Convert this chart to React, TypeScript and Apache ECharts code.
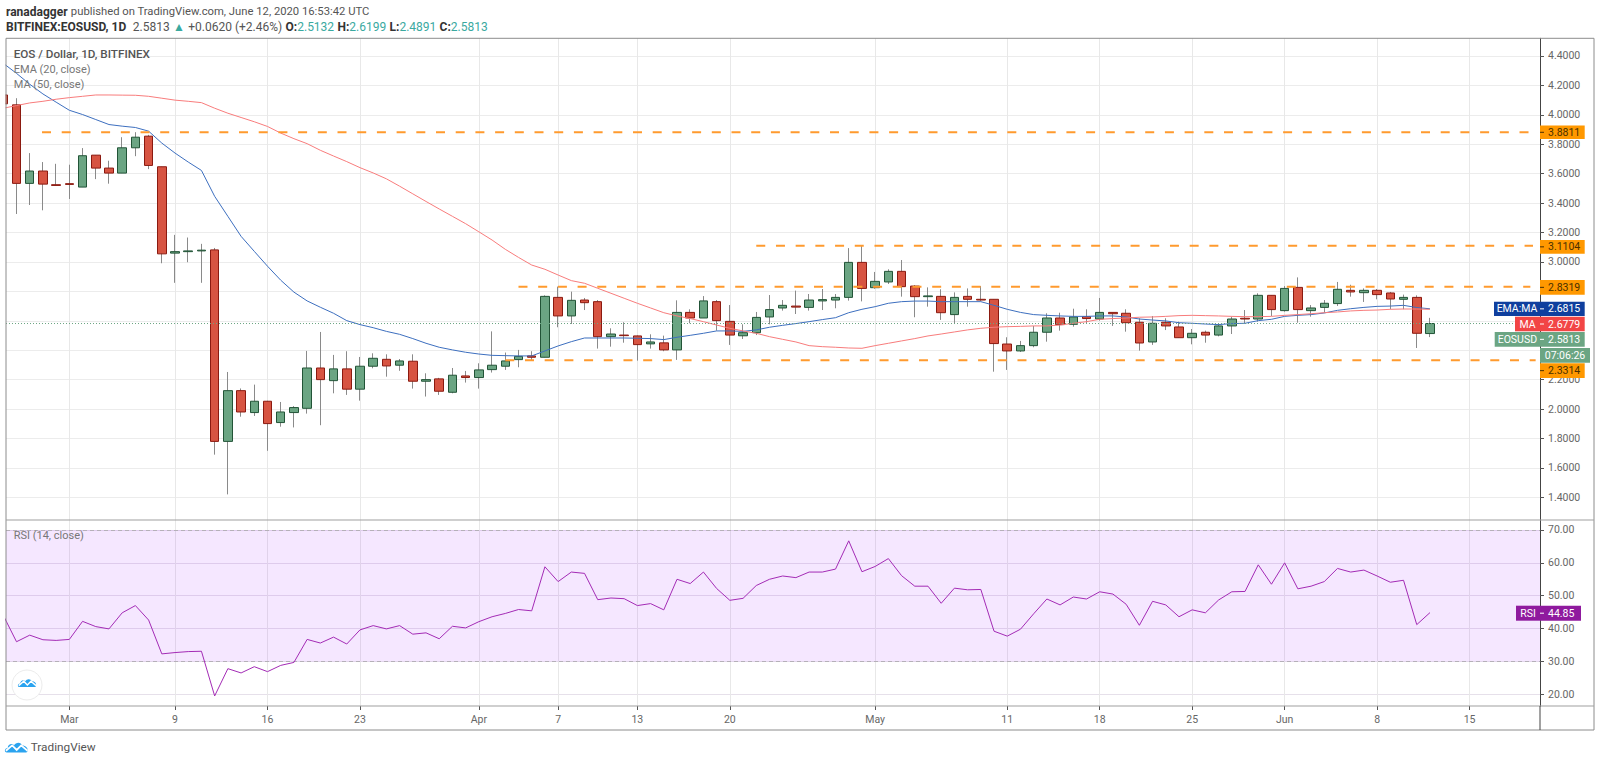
import { useEffect, useRef } from 'react';
import * as echarts from 'echarts';

// day 0 is Feb 25 2020, one entry per calendar day up to Jun 12
const opens = [
  4.135, 4.068, 3.534, 3.618, 3.525,
  3.532, 3.509, 3.726, 3.638, 3.604, 3.776, 3.855, 3.647, 3.06, 3.07, 3.075, 3.082, 1.78, 2.125, 1.976, 2.053, 1.908, 1.976, 2.005, 2.279, 2.193, 2.273, 2.135, 2.291, 2.338, 2.298, 2.325, 2.189, 2.205, 2.114, 2.225,
  2.214, 2.268, 2.291, 2.336, 2.361, 2.352, 2.759, 2.633, 2.741, 2.73, 2.492, 2.503, 2.497, 2.443, 2.45, 2.402, 2.657, 2.619, 2.73, 2.596, 2.498, 2.519, 2.626, 2.687, 2.7, 2.691, 2.735, 2.741, 2.759, 2.997,
  2.825, 2.864, 2.936, 2.836, 2.764, 2.766, 2.642, 2.766, 2.746, 2.746, 2.442, 2.395, 2.431, 2.522, 2.619, 2.576, 2.628, 2.612, 2.657, 2.651, 2.59, 2.456, 2.59, 2.558, 2.485, 2.522, 2.503, 2.565, 2.617, 2.612, 2.773,
  2.669, 2.827, 2.669, 2.691, 2.717, 2.807, 2.791, 2.807, 2.789, 2.746, 2.759, 2.5132,
];
const closes = [
  4.075, 3.534, 3.618, 3.529, 3.52,
  3.527, 3.722, 3.638, 3.604, 3.776, 3.848, 3.656, 3.055, 3.07, 3.075, 3.08, 1.78, 2.125, 1.98, 2.053, 1.901, 1.98, 2.01, 2.279, 2.2, 2.273, 2.135, 2.291, 2.345, 2.293, 2.327, 2.189, 2.2, 2.121, 2.23, 2.214,
  2.266, 2.298, 2.327, 2.358, 2.352, 2.766, 2.633, 2.739, 2.723, 2.492, 2.51, 2.499, 2.438, 2.456, 2.402, 2.657, 2.619, 2.735, 2.601, 2.503, 2.519, 2.623, 2.676, 2.705, 2.693, 2.741, 2.744, 2.759, 2.997, 2.82,
  2.868, 2.936, 2.832, 2.764, 2.769, 2.655, 2.759, 2.746, 2.741, 2.445, 2.395, 2.431, 2.522, 2.619, 2.574, 2.626, 2.615, 2.657, 2.648, 2.587, 2.449, 2.583, 2.565, 2.485, 2.515, 2.503, 2.565, 2.612, 2.612, 2.773, 2.676,
  2.82, 2.676, 2.687, 2.719, 2.814, 2.796, 2.807, 2.778, 2.748, 2.759, 2.515, 2.5813,
];
const lows = [
  4.05, 3.326, 3.387, 3.351, 3.518,
  3.428, 3.509, 3.563, 3.532, 3.604, 3.719, 3.631, 2.991, 2.858, 2.998, 2.858, 1.69, 1.42, 1.948, 1.953, 1.716, 1.88, 1.875, 1.969, 1.89, 2.107, 2.096, 2.057, 2.277, 2.22, 2.26, 2.139, 2.085, 2.096, 2.107, 2.18,
  2.139, 2.248, 2.266, 2.284, 2.329, 2.352, 2.556, 2.578, 2.673, 2.411, 2.424, 2.451, 2.329, 2.411, 2.393, 2.334, 2.583, 2.619, 2.533, 2.436, 2.476, 2.503, 2.576, 2.669, 2.646, 2.669, 2.673, 2.685, 2.737, 2.732,
  2.818, 2.85, 2.764, 2.624, 2.696, 2.606, 2.578, 2.696, 2.735, 2.254, 2.266, 2.388, 2.42, 2.458, 2.533, 2.56, 2.583, 2.601, 2.565, 2.526, 2.397, 2.436, 2.537, 2.485, 2.44, 2.451, 2.494, 2.51, 2.583, 2.594, 2.632,
  2.662, 2.587, 2.628, 2.655, 2.701, 2.764, 2.728, 2.746, 2.678, 2.678, 2.415, 2.4891,
];
const highs = [
  4.15, 4.113, 3.74, 3.679, 3.667,
  3.661, 3.774, 3.726, 3.688, 3.848, 3.882, 3.864, 3.647, 3.184, 3.166, 3.123, 3.095, 2.252, 2.14, 2.166, 2.056, 2.048, 2.02, 2.395, 2.524, 2.368, 2.393, 2.354, 2.379, 2.372, 2.34, 2.372, 2.243, 2.212, 2.279, 2.259,
  2.311, 2.528, 2.384, 2.402, 2.393, 2.773, 2.832, 2.798, 2.755, 2.741, 2.549, 2.59, 2.5, 2.508, 2.499, 2.739, 2.678, 2.768, 2.741, 2.707, 2.576, 2.66, 2.775, 2.741, 2.805, 2.782, 2.816, 2.782, 3.094, 3.112,
  2.932, 2.95, 3.013, 2.843, 2.827, 2.814, 2.793, 2.82, 2.836, 2.746, 2.488, 2.463, 2.565, 2.651, 2.655, 2.682, 2.678, 2.755, 2.657, 2.678, 2.617, 2.632, 2.617, 2.594, 2.544, 2.533, 2.578, 2.628, 2.673, 2.787, 2.773,
  2.836, 2.895, 2.707, 2.741, 2.864, 2.845, 2.82, 2.816, 2.796, 2.778, 2.773, 2.6199,
];
const ema20 = [
  4.35, 4.282, 4.208, 4.142, 4.086,
  4.031, 4.002, 3.968, 3.934, 3.923, 3.914, 3.889, 3.808, 3.74, 3.679, 3.622, 3.446, 3.31, 3.174, 3.072, 2.971, 2.876, 2.795, 2.735, 2.692, 2.651, 2.601, 2.574, 2.553, 2.528, 2.508, 2.479, 2.447, 2.42, 2.402, 2.386,
  2.374, 2.365, 2.363, 2.361, 2.361, 2.395, 2.429, 2.458, 2.483, 2.483, 2.483, 2.483, 2.481, 2.479, 2.472, 2.488, 2.501, 2.515, 2.531, 2.531, 2.528, 2.538, 2.556, 2.569, 2.581, 2.594, 2.608, 2.621, 2.655, 2.678,
  2.696, 2.719, 2.73, 2.734, 2.734, 2.73, 2.73, 2.73, 2.73, 2.705, 2.678, 2.657, 2.642, 2.637, 2.633, 2.63, 2.63, 2.633, 2.633, 2.626, 2.612, 2.605, 2.599, 2.587, 2.583, 2.578, 2.574, 2.581, 2.583, 2.601, 2.61,
  2.63, 2.637, 2.642, 2.653, 2.671, 2.682, 2.691, 2.698, 2.7, 2.705, 2.69, 2.6815,
];
const ma50 = [
  4.045, 4.063, 4.081, 4.092, 4.106,
  4.117, 4.126, 4.135, 4.135, 4.134, 4.133, 4.126, 4.113, 4.1, 4.092, 4.083, 4.045, 4.011, 3.982, 3.953, 3.921, 3.876, 3.838, 3.804, 3.759, 3.72, 3.682, 3.641, 3.605, 3.565, 3.515, 3.463, 3.411, 3.36, 3.31, 3.26,
  3.205, 3.149, 3.086, 3.031, 2.979, 2.95, 2.911, 2.873, 2.855, 2.821, 2.787, 2.753, 2.719, 2.687, 2.655, 2.633, 2.615, 2.594, 2.571, 2.549, 2.531, 2.515, 2.492, 2.474, 2.456, 2.431, 2.424, 2.42, 2.415, 2.413,
  2.431, 2.447, 2.463, 2.479, 2.497, 2.51, 2.524, 2.538, 2.549, 2.556, 2.56, 2.562, 2.565, 2.565, 2.571, 2.583, 2.594, 2.61, 2.615, 2.619, 2.624, 2.626, 2.63, 2.635, 2.637, 2.635, 2.633, 2.63, 2.628, 2.628, 2.63,
  2.637, 2.642, 2.648, 2.655, 2.66, 2.667, 2.671, 2.673, 2.678, 2.68, 2.68, 2.6779,
];
const rsi14 = [
  44, 36, 38, 36.6, 36.4,
  36.7, 42.2, 40.6, 39.9, 44.8, 47, 42.6, 32.3, 32.7, 33, 33.1, 19.5, 27.8, 26.5, 28.4, 26.9, 28.8, 29.7, 36.7, 35.6, 37.4, 35.3, 39.6, 40.9, 39.9, 40.9, 38.3, 38.7, 36.9, 40.7, 40.2,
  42.1, 43.6, 44.6, 45.8, 45.4, 58.8, 54.3, 57.2, 56.8, 48.8, 49.3, 49.1, 47, 47.6, 45.7, 55, 53.7, 57.2, 52.2, 48.6, 49.2, 53.1, 55, 56, 55.5, 57.2, 57.2, 58.1, 66.7, 57.3,
  58.9, 61.3, 56.1, 52.9, 52.9, 47.7, 52.3, 51.8, 51.9, 39.2, 37.7, 39.8, 44.5, 49, 47.2, 49.6, 49, 51.2, 50.5, 47.4, 41, 48.3, 47.2, 43.6, 45.7, 44.8, 48.7, 51.2, 51.3, 59.4, 53.5,
  60, 52.1, 52.9, 54.3, 58.3, 57.2, 57.8, 56, 54.1, 54.7, 41.2, 44.85,
];

const tickDays = [5, 13, 20, 27, 36, 42, 48, 55, 66, 76, 83, 90, 97, 104, 111];
const tickNames = ['Mar', '9', '16', '23', 'Apr', '7', '13', '20', 'May', '11', '18', '25', 'Jun', '8', '15'];
const priceTicks = [1.4, 1.6, 1.8, 2, 2.2, 2.4, 2.6, 2.8, 3, 3.2, 3.4, 3.6, 3.8, 4, 4.2, 4.4];
// 2.4, 2.6 and 2.8 sit behind the flags on the axis
const priceLabels = [1.4, 1.6, 1.8, 2, 2.2, 3, 3.2, 3.4, 3.6, 3.8, 4, 4.2, 4.4];
const rsiTicks = [20, 30, 40, 50, 60, 70];

const levels = [3.8811, 3.1104, 2.8319, 2.3314];
const levelStarts = [2.93, 57, 39, 38];
const levelEnds = [115.8, 115.8, 115.6, 116];
const lastPrice = 2.5813;

const FONT = 'Roboto, sans-serif';
const XMIN = 0.204;
const XMAX = 116.33;
const AXIS_SIZE = 10.5;

echarts.graphic.registerShape(
  'tvCloud',
  echarts.graphic.extendPath(
    'M2 14 C-1 14 -1 9 3 9 C3 5 8 3 10 6 C12 2 18 2 19 6 C23 6 26 9 25 12 C25 13 24 14 23 14 Z',
    {},
  ),
);

const text = (x: number, y: number, t: string, fill: string, size = 11, weight = 'normal') => ({
  type: 'text',
  z: 100,
  x,
  y,
  style: { text: t, fill, font: `${weight} ${size}px ${FONT}`, textVerticalAlign: 'middle' },
});

const rect = (x: number, y: number, w: number, h: number, fill: string) => ({
  type: 'rect',
  z: 100,
  shape: { x, y, width: w, height: h },
  style: { fill },
});

const line = (x1: number, y1: number, x2: number, y2: number, stroke: string, lineWidth = 1) => ({
  type: 'line',
  z: 101,
  shape: { x1, y1, x2, y2 },
  style: { stroke, lineWidth },
});

// price flag on the axis, with the name box to its left when there is one
const flag = (y0: number, y1: number, fill: string, color: string, value: string, name?: string, nameX?: number, w = 44.7) => {
  const out: any[] = [rect(1540, y0, w, y1 - y0, fill), line(1540, (y0 + y1) / 2, 1544, (y0 + y1) / 2, color)];
  out.push({
    type: 'text',
    z: 102,
    x: 1548,
    y: (y0 + y1) / 2,
    style: { text: value, fill: color, font: `${AXIS_SIZE}px ${FONT}`, textVerticalAlign: 'middle' },
  });
  if (name && nameX !== undefined) {
    out.push(rect(nameX, y0, 1540 - nameX, y1 - y0, fill));
    out.push({
      type: 'text',
      z: 102,
      x: (nameX + 1540) / 2,
      y: (y0 + y1) / 2,
      style: { text: name, fill: color, font: `${AXIS_SIZE}px ${FONT}`, textAlign: 'center', textVerticalAlign: 'middle' },
    });
  }
  return out;
};

const logo = (x: number, y: number, s: number) => ({
  type: 'group',
  z: 100,
  x,
  y,
  scaleX: s,
  scaleY: s,
  children: [
    { type: 'tvCloud', z: 100, style: { fill: '#2aa3ef' } },
    {
      type: 'polyline',
      z: 101,
      shape: { points: [[1, 12], [8, 6], [13, 11], [18, 6], [25, 12]] },
      style: { stroke: '#fff', lineWidth: 2, fill: 'none' },
    },
  ],
});

export default function App() {
  const chartRef = useRef<HTMLDivElement>(null);

  useEffect(() => {
    if (!chartRef.current) return;
    const chart = echarts.init(chartRef.current, undefined, { renderer: 'svg' });

    const candleData = opens.map((o, i) => [i, o, closes[i], lows[i], highs[i]]);
    const bodyData = opens.map((o, i) => [i, o, closes[i], Math.min(o, closes[i]), Math.max(o, closes[i])]);

    const dayAxis = (gridIndex: number, labels: boolean) => ({
      type: 'value',
      gridIndex,
      min: XMIN,
      max: XMAX,
      axisLine: { show: false },
      axisTick: { show: labels, customValues: tickDays, length: 4, lineStyle: { color: '#555' } },
      axisLabel: {
        show: labels,
        customValues: tickDays,
        margin: 8,
        color: '#666',
        fontFamily: FONT,
        fontSize: AXIS_SIZE,
        formatter: (v: number) => tickNames[tickDays.indexOf(v)] ?? '',
      },
      splitLine: { show: true, lineStyle: { color: '#e8e8e8', width: 1 } },
    });

    const option = {
      animation: false,
      backgroundColor: '#fff',
      grid: [
        { left: 6, width: 1534, top: 38.3, height: 481.7 },
        { left: 6, width: 1534, top: 520, height: 186 },
      ],
      xAxis: [dayAxis(0, false), dayAxis(1, true)],
      yAxis: [
        {
          type: 'value',
          gridIndex: 0,
          position: 'right',
          min: 1.2457,
          max: 4.5203,
          axisLine: { show: true, onZero: false, lineStyle: { color: '#444' } },
          axisTick: { show: true, customValues: priceTicks, length: 4, lineStyle: { color: '#555' } },
          axisLabel: {
            customValues: priceLabels,
            margin: 8,
            color: '#666',
            fontFamily: FONT,
            fontSize: AXIS_SIZE,
            formatter: (v: number) => v.toFixed(4),
          },
          splitLine: { show: true, lineStyle: { color: '#ececec', width: 1.2 } },
        },
        {
          type: 'value',
          gridIndex: 1,
          position: 'right',
          min: 16.44,
          max: 73.04,
          axisLine: { show: true, onZero: false, lineStyle: { color: '#444' } },
          axisTick: { show: true, customValues: rsiTicks, length: 4, lineStyle: { color: '#555' } },
          axisLabel: {
            customValues: rsiTicks,
            margin: 8,
            color: '#666',
            fontFamily: FONT,
            fontSize: AXIS_SIZE,
            formatter: (v: number) => v.toFixed(2),
          },
          splitLine: { show: true, lineStyle: { color: '#e6e0ea', width: 1 } },
        },
      ],
      series: [
        // wicks first, then the bodies on top so that wick and border colours differ
        {
          type: 'candlestick',
          z: 3,
          xAxisIndex: 0,
          yAxisIndex: 0,
          barWidth: 1,
          encode: { x: 0, y: [1, 2, 3, 4] },
          data: candleData,
          itemStyle: { color: '#8a8a8a', color0: '#8a8a8a', borderColor: '#8a8a8a', borderColor0: '#8a8a8a', borderWidth: 1 },
        },
        {
          type: 'candlestick',
          z: 4,
          xAxisIndex: 0,
          yAxisIndex: 0,
          barWidth: 9,
          encode: { x: 0, y: [1, 2, 3, 4] },
          data: bodyData,
          itemStyle: { color: '#6ba583', color0: '#d75442', borderColor: '#225437', borderColor0: '#8b1a10', borderWidth: 1 },
        },
        {
          name: 'EMA (20, close)',
          type: 'line',
          z: 5,
          xAxisIndex: 0,
          yAxisIndex: 0,
          symbol: 'none',
          data: ema20.map((v, i) => [i, v]),
          lineStyle: { color: '#3d6fbf', width: 1 },
        },
        {
          name: 'MA (50, close)',
          type: 'line',
          z: 5,
          xAxisIndex: 0,
          yAxisIndex: 0,
          symbol: 'none',
          data: ma50.map((v, i) => [i, v]),
          lineStyle: { color: '#f87c7c', width: 1 },
        },
        ...levels.map((level, k) => ({
          type: 'line',
          z: 6,
          xAxisIndex: 0,
          yAxisIndex: 0,
          symbol: 'none',
          data: [[levelStarts[k], level], [levelEnds[k], level]],
          lineStyle: { color: '#ff9a2e', width: 2, type: [9, 10.7] },
        })),
        {
          type: 'line',
          z: 6,
          xAxisIndex: 0,
          yAxisIndex: 0,
          symbol: 'none',
          data: [[XMIN, lastPrice], [XMAX, lastPrice]],
          lineStyle: { color: '#6ba583', width: 1, type: [1, 2] },
        },
        {
          name: 'RSI (14, close)',
          type: 'line',
          z: 5,
          xAxisIndex: 1,
          yAxisIndex: 1,
          symbol: 'none',
          data: rsi14.map((v, i) => [i, v]),
          lineStyle: { color: '#a32bb5', width: 1 },
          markArea: {
            silent: true,
            itemStyle: { color: 'rgba(153,21,255,0.1)' },
            data: [[{ yAxis: 70 }, { yAxis: 30 }]],
          },
          markLine: {
            silent: true,
            symbol: 'none',
            label: { show: false },
            lineStyle: { color: '#b5b0b8', width: 1, type: [4, 3] },
            data: [{ yAxis: 70 }, { yAxis: 30 }],
          },
        },
      ],
      graphic: {
        elements: [
          // hides the part of the first candle that sticks out past the frame
          rect(0, 38, 5.5, 482, '#fff'),
          {
            type: 'rect',
            z: 100,
            shape: { x: 6, y: 38.3, width: 1588, height: 691.7 },
            style: { fill: 'none', stroke: '#8c8c8c', lineWidth: 1 },
          },
          line(6, 520, 1594, 520, '#a0a0a0', 1.2),
          line(6, 706, 1594, 706, '#a0a0a0', 1.2),
          line(1540, 706, 1540, 730, '#444'),
          {
            type: 'text',
            z: 100,
            x: 6,
            y: 11.7,
            style: {
              text: '{b|ranadagger} {n|published on TradingView.com, June 12, 2020 16:53:42 UTC}',
              rich: {
                b: { font: `bold 12px ${FONT}`, fill: '#333' },
                n: { font: `11.25px ${FONT}`, fill: '#555' },
              },
              textVerticalAlign: 'middle',
            },
          },
          {
            type: 'text',
            z: 100,
            x: 6,
            y: 26.7,
            style: {
              text: '{b|BITFINEX:EOSUSD, 1D}  {n|2.5813} {t|▲} {n|+0.0620 (+2.46%)} {b|O:}{t|2.5132} {b|H:}{t|2.6199} {b|L:}{t|2.4891} {b|C:}{t|2.5813}',
              rich: {
                b: { font: `bold 12px ${FONT}`, fill: '#333' },
                n: { font: `12px ${FONT}`, fill: '#555' },
                t: { font: `12px ${FONT}`, fill: '#3aa99f' },
              },
              textVerticalAlign: 'middle',
            },
          },
          text(13.7, 54, 'EOS / Dollar, 1D, BITFINEX', '#555', 11.7, '500'),
          text(13.7, 69.3, 'EMA (20, close)', '#777'),
          text(13.7, 84.7, 'MA (50, close)', '#777'),
          text(13.7, 535.3, 'RSI (14, close)', '#777'),
          { type: 'circle', z: 100, shape: { cx: 27, cy: 685, r: 15 }, style: { fill: '#fff', stroke: '#ececec', lineWidth: 1 } },
          logo(18, 677, 0.72),
          logo(5, 740, 0.9),
          text(30.7, 746.7, 'TradingView', '#555', 11.8),
          ...flag(125.6, 139, '#ff9800', '#4a3000', '3.8811'),
          ...flag(240, 253.7, '#ff9800', '#4a3000', '3.1104'),
          ...flag(280, 294.7, '#ff9800', '#4a3000', '2.8319'),
          ...flag(363.3, 378, '#ff9800', '#4a3000', '2.3314'),
          ...flag(301.7, 316, '#0f3f9e', '#fff', '2.6815', 'EMA:MA', 1494),
          ...flag(316.7, 331.3, '#f24545', '#fff', '2.6779', 'MA', 1515),
          ...flag(332, 346.7, '#6ba583', '#fff', '2.5813', 'EOSUSD', 1494.7),
          rect(1540, 348, 50, 14.7, '#6ba583'),
          {
            type: 'text',
            z: 102,
            x: 1565,
            y: 355.3,
            style: { text: '07:06:26', fill: '#fff', font: `${AXIS_SIZE}px ${FONT}`, textAlign: 'center', textVerticalAlign: 'middle' },
          },
          ...flag(605.7, 620.7, '#8f1a9e', '#fff', '44.85', 'RSI', 1516, 41),
        ],
      },
    };

    chart.setOption(option as any);
    return () => chart.dispose();
  }, []);

  return <div ref={chartRef} style={{ position: 'fixed', left: 0, top: 0, width: 1600, height: 763 }} />;
}
